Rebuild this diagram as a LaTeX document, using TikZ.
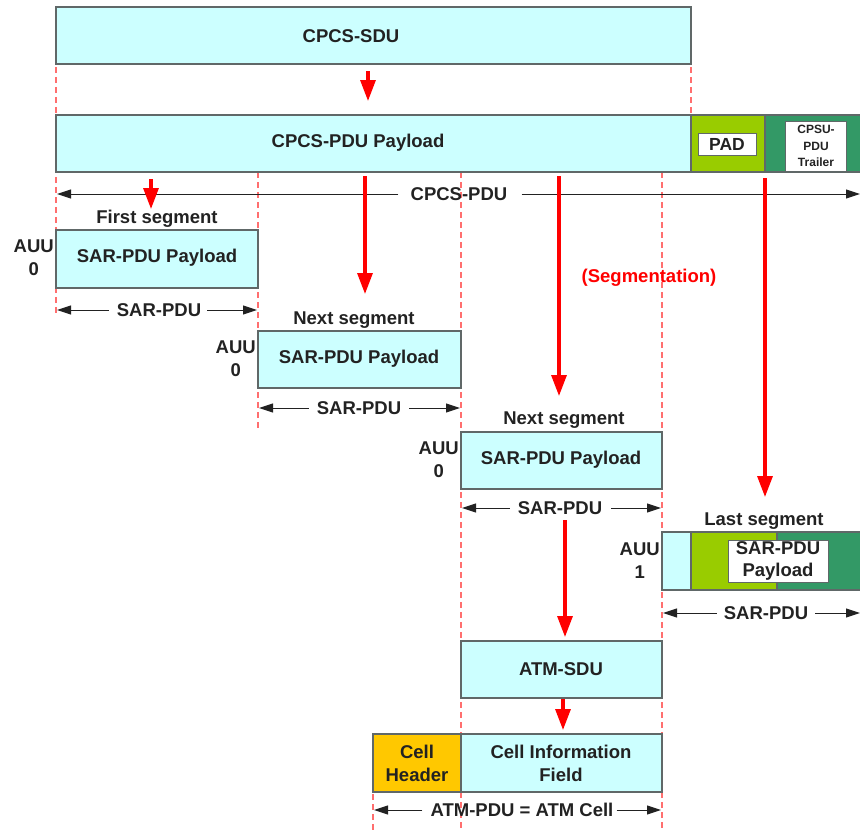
\documentclass[tikz,border=0pt]{standalone}
\usepackage{fontspec}
\setmainfont{Liberation Sans}
\usetikzlibrary{arrows.meta}
\definecolor{cyanbox}{HTML}{CCFFFF}
\definecolor{lgreen}{HTML}{99CC00}
\definecolor{dgreen}{HTML}{339966}
\definecolor{orangebox}{HTML}{FFC800}
\definecolor{boxline}{HTML}{606868}
\definecolor{txt}{HTML}{222222}
\definecolor{dashred}{HTML}{FF6F6F}
\definecolor{arrred}{HTML}{FF0000}
\begin{document}
\begin{tikzpicture}[x=1pt,y=-1pt,
  box/.style={draw=boxline, line width=1.3pt, fill=cyanbox, inner sep=0pt, outer sep=0pt, anchor=north west},
  lbl/.style={font=\fontsize{18.5}{21}\selectfont\bfseries, text=txt, inner sep=0pt, align=center},
  whitebox/.style={draw=boxline, line width=1pt, fill=white, inner sep=0pt, align=center, text=txt},
  guide/.style={draw=dashred, line width=1.1pt, dash pattern=on 6pt off 4pt},
  redarr/.style={draw=arrred, line width=3.2pt, -{Triangle[length=21pt,width=15pt]}},
  dimarr/.style={draw=txt, line width=1pt, -{Triangle[length=14pt,width=9pt]}},
  dimlbl/.style={font=\fontsize{18.5}{21}\selectfont\bfseries, text=txt, inner sep=0pt},
  auu/.style={font=\fontsize{18.5}{23}\selectfont\bfseries, text=txt, inner sep=0pt, align=center, anchor=east}
]
\useasboundingbox (0,0) rectangle (860,830);

% dashed guide lines
\draw[guide] (56,7) -- (56,316);
\draw[guide] (691,7) -- (691,115);
\draw[guide] (258,172) -- (258,430);
\draw[guide] (461,172) -- (461,830);
\draw[guide] (662,172) -- (662,830);
\draw[guide] (373,734) -- (373,830);

% top boxes
\node[box, minimum width=635pt, minimum height=57pt] (sdu) at (56,7) {};
\node[lbl] (sdut) at (351,36) {CPCS-SDU};
\node[box, minimum width=635pt, minimum height=57pt] (pay) at (56,115) {};
\node[lbl] (payt) at (358,143) {CPCS-PDU Payload};
\node[box, fill=lgreen, minimum width=74pt, minimum height=57pt] (pad) at (691,115) {};
\node[box, fill=dgreen, minimum width=100pt, minimum height=57pt] (trl) at (765,115) {};
\node[whitebox, minimum width=58pt, minimum height=22pt, font=\fontsize{17.5}{20}\selectfont\bfseries] (padt) at (727,144) {PAD};
\node[whitebox, minimum width=61pt, minimum height=50pt, font=\fontsize{12}{16.5}\selectfont\bfseries] (trlt) at (816,146) {CPSU-\\PDU\\Trailer};

% CPCS-PDU dimension
\coordinate (cl) at (57,194);
\coordinate (cr) at (860,194);
\node[dimlbl] (cpdu) at (459,194) {CPCS-PDU};
\draw[dimarr] ([xshift=-12pt]cpdu.west) -- (cl);
\draw[dimarr] ([xshift=14pt]cpdu.east) -- (cr);

% red arrows
\coordinate (a0s) at (368,71); \coordinate (a0e) at (368,101);
\draw[redarr] (a0s) -- (a0e);
\coordinate (a1s) at (151,179); \coordinate (a1e) at (151,209);
\draw[redarr] (a1s) -- (a1e);
\coordinate (a2s) at (365,176); \coordinate (a2e) at (365,294);
\draw[redarr] (a2s) -- (a2e);
\coordinate (a3s) at (559,176); \coordinate (a3e) at (559,396);
\draw[redarr] (a3s) -- (a3e);
\coordinate (a4s) at (765,178); \coordinate (a4e) at (765,497);
\draw[redarr] (a4s) -- (a4e);
\node[lbl, text=arrred] (seg) at (649,278) {(Segmentation)};

% first segment
\node[lbl] (fs) at (157,219) {First segment};
\node[box, minimum width=202pt, minimum height=58pt] (s1) at (56,230) {};
\node[lbl] (s1t) at (157,258) {SAR-PDU Payload};
\node[auu] (u1) at (54,258) {AUU\\0};
\coordinate (s1l) at (57,310); \coordinate (s1r) at (257,310);
\node[dimlbl] (d1) at (159,310) {SAR-PDU};
\draw[dimarr] ([xshift=-8pt]d1.west) -- (s1l);
\draw[dimarr] ([xshift=6pt]d1.east) -- (s1r);

% second segment
\node[lbl] (ns1) at (354,320) {Next segment};
\node[box, minimum width=203pt, minimum height=57pt] (s2) at (258,331) {};
\node[lbl] (s2t) at (359,359) {SAR-PDU Payload};
\node[auu] (u2) at (256,359) {AUU\\0};
\coordinate (s2l) at (259,408); \coordinate (s2r) at (460,408);
\node[dimlbl] (d2) at (359,408) {SAR-PDU};
\draw[dimarr] ([xshift=-8pt]d2.west) -- (s2l);
\draw[dimarr] ([xshift=8pt]d2.east) -- (s2r);

% third segment
\node[lbl] (ns2) at (564,420) {Next segment};
\node[box, minimum width=201pt, minimum height=57pt] (s3) at (461,432) {};
\node[lbl] (s3t) at (561,460) {SAR-PDU Payload};
\node[auu] (u3) at (459,460) {AUU\\0};
\coordinate (s3l) at (462,508); \coordinate (s3r) at (661,508);
\node[dimlbl] (d3) at (560,508) {SAR-PDU};
\draw[dimarr] ([xshift=-8pt]d3.west) -- (s3l);
\draw[dimarr] ([xshift=9pt]d3.east) -- (s3r);

% last segment
\node[lbl] (ls) at (764,521) {Last segment};
\node[box, minimum width=29pt, minimum height=58pt] (s4a) at (662,532) {};
\node[box, fill=lgreen, minimum width=86pt, minimum height=58pt] (s4b) at (691,532) {};
\node[box, fill=dgreen, minimum width=90pt, minimum height=58pt] (s4c) at (777,532) {};
\node[whitebox, minimum width=100pt, minimum height=42pt, font=\fontsize{18.5}{22}\selectfont\bfseries] (s4t) at (778,561) {SAR-PDU\\Payload};
\node[auu] (u4) at (660,561) {AUU\\1};
\coordinate (s4l) at (663,613); \coordinate (s4r) at (860,613);
\node[dimlbl] (d4) at (766,613) {SAR-PDU};
\draw[dimarr] ([xshift=-7pt]d4.west) -- (s4l);
\draw[dimarr] ([xshift=7pt]d4.east) -- (s4r);

% ATM layer
\coordinate (a5s) at (565,520); \coordinate (a5e) at (565,637);
\draw[redarr] (a5s) -- (a5e);
\node[box, minimum width=201pt, minimum height=57pt] (atm) at (461,641) {};
\node[lbl] (atmt) at (561,669) {ATM-SDU};
\coordinate (a6s) at (563,699); \coordinate (a6e) at (563,730);
\draw[redarr] (a6s) -- (a6e);
\node[box, fill=orangebox, minimum width=88pt, minimum height=58pt] (ch) at (373,734) {};
\node[lbl, font=\fontsize{18.5}{23}\selectfont\bfseries] (cht) at (417,763) {Cell\\Header};
\node[box, minimum width=201pt, minimum height=58pt] (ci) at (461,734) {};
\node[lbl, font=\fontsize{18.5}{23}\selectfont\bfseries] (cit) at (561,763) {Cell Information\\Field};
\coordinate (cl2) at (374,810); \coordinate (cr2) at (661,810);
\node[dimlbl] (d5) at (522,810) {ATM-PDU = ATM Cell};
\draw[dimarr] ([xshift=-8pt]d5.west) -- (cl2);
\draw[dimarr] ([xshift=3pt]d5.east) -- (cr2);
\end{tikzpicture}
\end{document}
